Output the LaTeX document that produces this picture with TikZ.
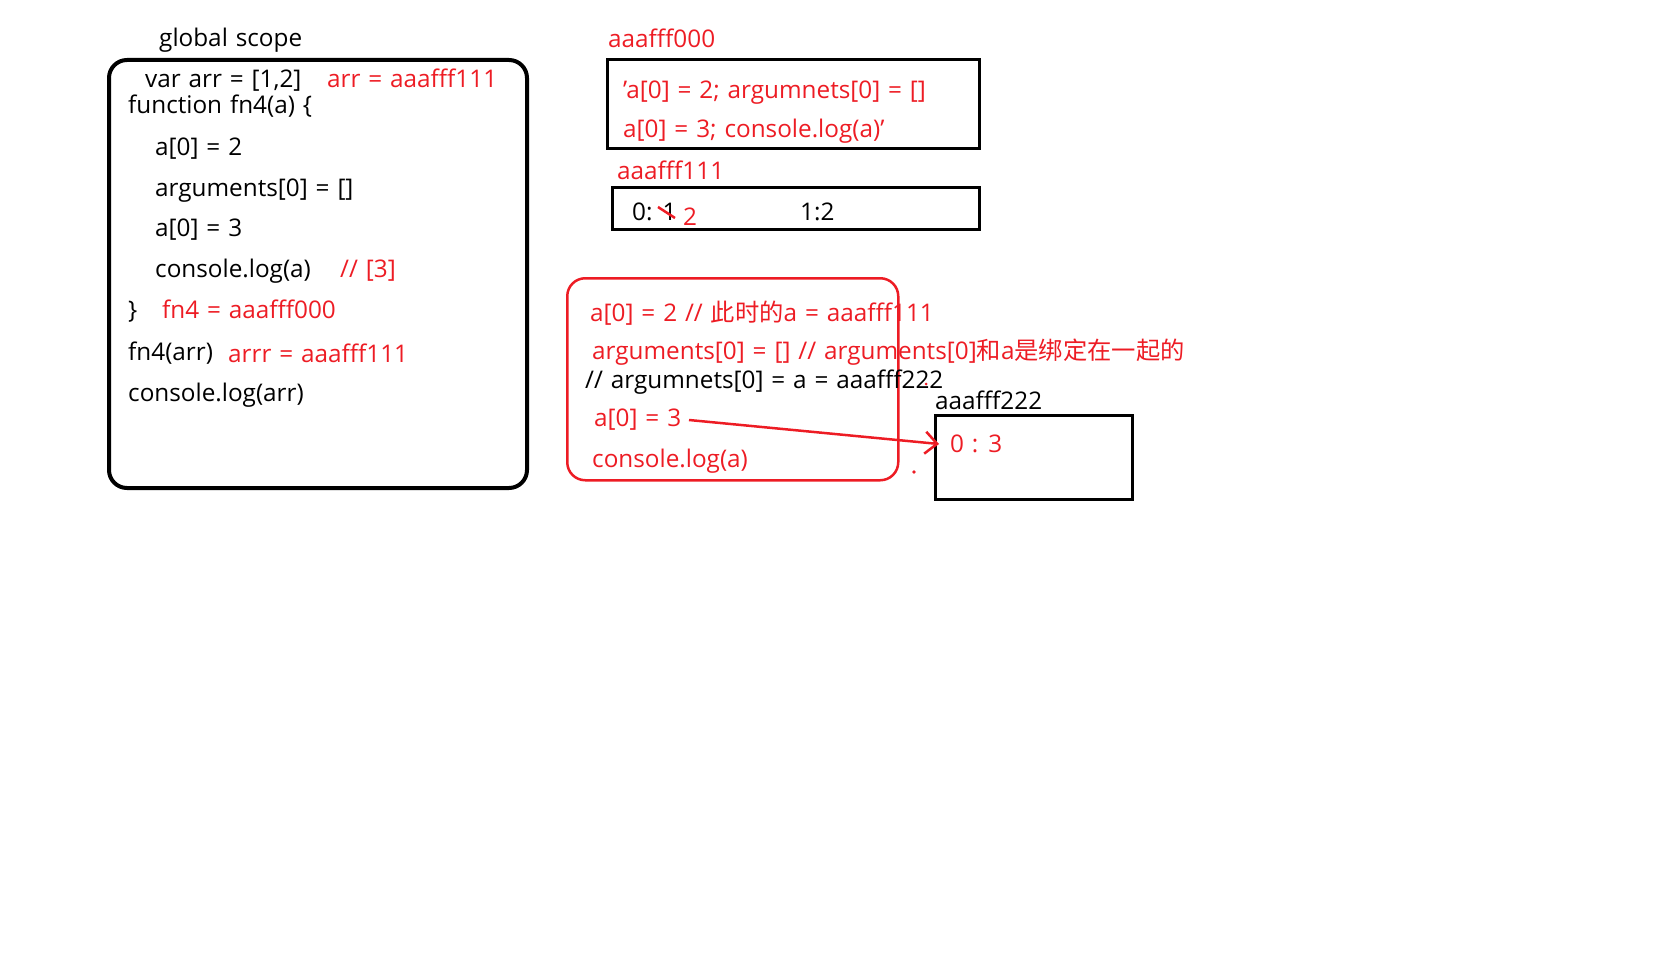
\documentclass[tikz,border=0pt]{standalone}
\usepackage{fontspec}
\setmainfont{Open Sans}[WordSpace={1.25,0.5,0.3}]
\newfontfamily\cjk{Noto Sans CJK SC}
\usetikzlibrary{arrows.meta}
\definecolor{pred}{RGB}{237,28,36}
\tikzset{
  txt/.style={anchor=base west, inner sep=0pt, font=\fontsize{24.3}{29}\selectfont},
  rtxt/.style={txt, text=pred},
  blackbox/.style={draw=black, line width=3pt, anchor=north west, inner sep=0pt},
}
\begin{document}
\begin{tikzpicture}[x=1pt,y=-1pt]
\useasboundingbox (0,0) rectangle (1654,974);
% global scope
\node[txt] (gs) at (159,47) {global scope};
\node[draw=black, line width=4pt, rounded corners=18pt, anchor=north west, minimum width=418pt, minimum height=428pt, inner sep=0pt] (gbox) at (107,58) {};
\node[txt] (l1) at (145,87) {var arr = [1,2]};
\node[rtxt] (l1r) at (327,87) {arr = aaafff111};
\node[txt] (l2) at (128,113) {function fn4(a) \{};
\node[txt] (l3) at (155,155) {a[0] = 2};
\node[txt] (l4) at (155,196) {arguments[0] = []};
\node[txt] (l5) at (155,236) {a[0] = 3};
\node[txt] (l6) at (155,277) {console.log(a)};
\node[rtxt] (l6r) at (340,277) {// [3]};
\node[txt] (l7) at (128,318) {\}};
\node[rtxt] (l7r) at (162,318) {fn4 = aaafff000};
\node[txt] (l8) at (128,360) {fn4(arr)};
\node[rtxt] (l8r) at (228,362) {arrr = aaafff111};
\node[txt] (l9) at (128,401) {console.log(arr)};
% aaafff000
\node[rtxt] (h0) at (608,48) {aaafff000};
\node[blackbox, minimum width=372pt, minimum height=89pt] (b0) at (606,58) {};
\node[rtxt] (b0a) at (623,98) {'a[0] = 2; argumnets[0] = []};
\node[rtxt] (b0b) at (623,137) {a[0] = 3; console.log(a)'};
% aaafff111
\node[rtxt] (h1) at (617,179) {aaafff111};
\node[blackbox, minimum width=367pt, minimum height=42pt] (b1) at (611,186) {};
\node[txt] (b1a) at (632,220) {0: 1};
\node[rtxt] (b1b) at (683,225) {2};
\node[txt] (b1c) at (800,220) {1:2};
\coordinate (s1) at (658,207);
\coordinate (s2) at (675,218);
\draw[pred, line width=2.5pt] (s1) -- (s2);
% red function execution box
\node[draw=pred, line width=2.5pt, rounded corners=18pt, anchor=north west, minimum width=331pt, minimum height=202pt, inner sep=0pt] (rbox) at (566,277) {};
\node[rtxt] (r1) at (590,321) {a[0] = 2 // {\cjk 此时的}a = aaafff111};
\node[rtxt] (r2) at (592,359) {arguments[0] = [] // arguments[0]{\cjk 和}a{\cjk 是绑定在一起的}};
\node[txt] (r3) at (585,388) {// argumnets[0] = a = aaafff222};
\node[rtxt] (r4) at (594,426) {a[0] = 3};
\node[rtxt] (r5) at (592,467) {console.log(a)};
% aaafff222
\node[txt] (h2) at (935,409) {aaafff222};
\node[blackbox, minimum width=197pt, minimum height=84pt] (b2) at (934,414) {};
\node[rtxt] (b2a) at (950,452) {0 : 3};
\coordinate (arrs) at (689,420);
\coordinate (arre) at (939,444);
\draw[pred, line width=2.5pt, -{Straight Barb[length=12pt, width=22pt, line width=2.5pt]}] (arrs) -- (arre);
\coordinate (dot1) at (914,472);
\fill[pred] (dot1) circle (1.8pt);
\coordinate (dot2) at (926,384);
\fill[pred] (dot2) circle (1.5pt);
\end{tikzpicture}
\end{document}
